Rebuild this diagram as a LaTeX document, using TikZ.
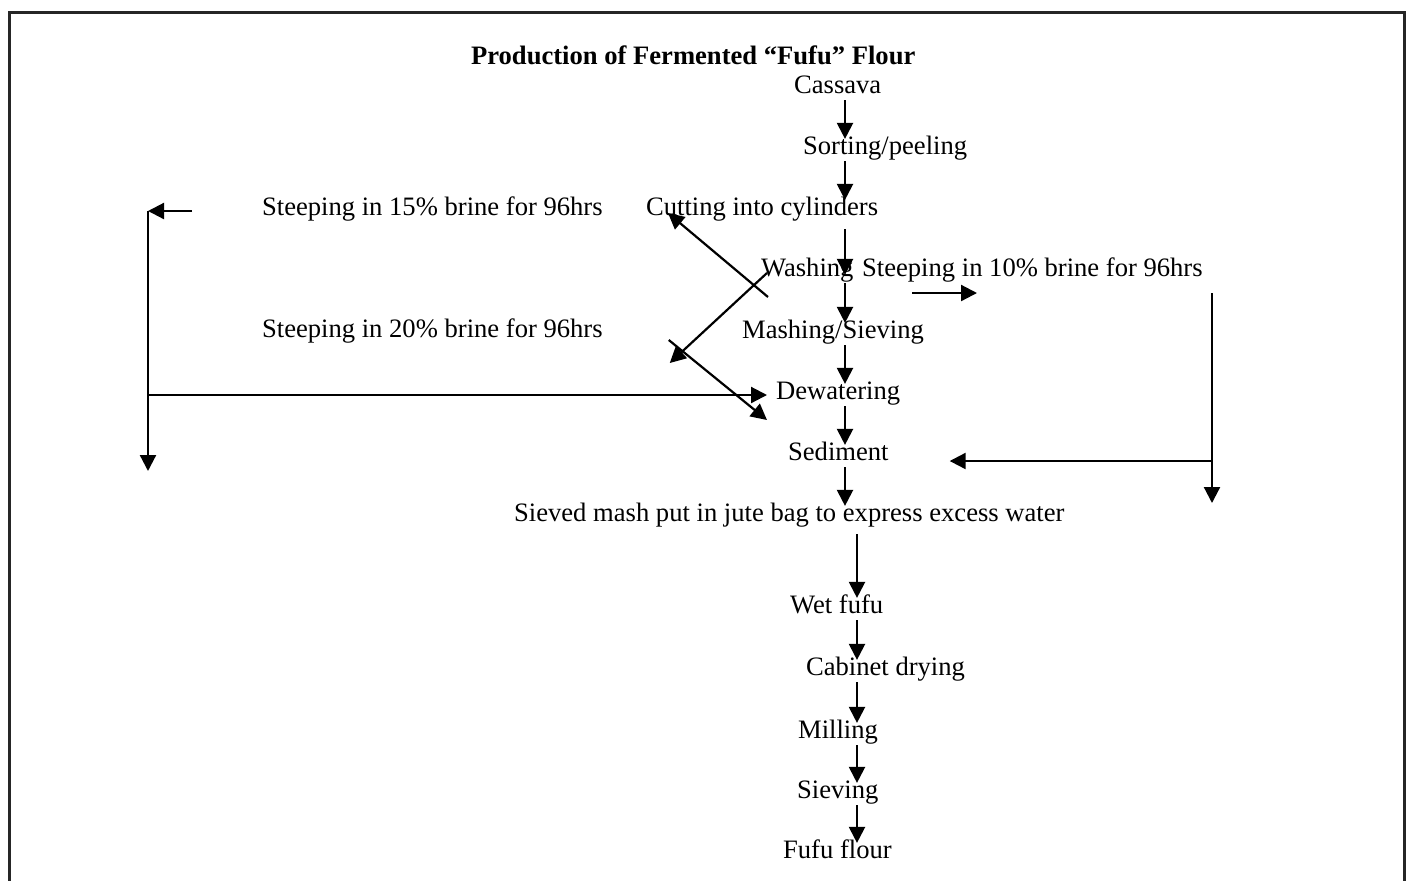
\documentclass[tikz,border=0pt]{standalone}
\usepackage{fontspec}
\setmainfont{Liberation Serif}
\usetikzlibrary{arrows.meta,calc}

\begin{document}
\begin{tikzpicture}[x=0.5pt, y=-0.5pt, line width=1.1pt,
    >={Triangle[length=8pt,width=8pt]},
    every node/.style={inner sep=0pt, text height=7pt, text depth=3pt,
      font=\fontsize{13.3}{16}\selectfont},
    stage/.style={anchor=base west},
    frame/.style={line width=1.5pt, black!85}]

      \useasboundingbox (0,0) rectangle (1409,880);
      \draw[frame] (9,890) -- (9,12) -- (1404,12) -- (1404,890);

      \node[stage, font=\fontsize{13.3}{16}\selectfont\bfseries] (title) at (470,64) {Production of Fermented “Fufu” Flour};

      % main line
      \node[stage] (cassava)  at (793,93)  {Cassava};
      \node[stage] (sorting)  at (802,154) {Sorting/peeling};
      \node[stage] (cutting)  at (645,215) {Cutting into cylinders};
      \node[stage] (washing)  at (760,276) {Washing};
      \node[stage] (mashing)  at (741,338) {Mashing/Sieving};
      \node[stage] (dewater)  at (775,399) {Dewatering};
      \node[stage] (sediment) at (787,460) {Sediment};
      \node[stage] (jutebag)  at (513,521) {Sieved mash put in jute bag to express excess water};
      \node[stage] (wetfufu)  at (789,613) {Wet fufu};
      \node[stage] (drying)   at (805,675) {Cabinet drying};
      \node[stage] (milling)  at (797,738) {Milling};
      \node[stage] (sieving)  at (796,798) {Sieving};
      \node[stage] (flour)    at (782,858) {Fufu flour};

      % brine steps
      \node[stage] (steepA) at (261,215) {Steeping in 15\% brine for 96hrs};
      \node[stage] (steepB) at (861,276) {Steeping in 10\% brine for 96hrs};
      \node[stage] (steepC) at (261,337) {Steeping in 20\% brine for 96hrs};

      \coordinate (spine)    at (845,0);
      \coordinate (spinelow) at (857,0);
      \coordinate (leftTop)  at (148,211);
      \coordinate (leftBot)  at (148,471);
      \coordinate (rightTop) at (1212,293);
      \coordinate (rightBot) at (1212,503);
      \coordinate (sedtip)   at ($(sediment.base east)+(60,1)$);

      \foreach \a/\b in {cassava/sorting, sorting/cutting, washing/mashing,
                         mashing/dewater, dewater/sediment, sediment/jutebag}
        \draw[->] (\a.south -| spine) -- (\b.north -| spine);
      \draw[->, shorten <=3.5pt, shorten >=-7pt] (cutting.south -| spine) -- (washing.north -| spine);

      \draw[->, shorten <=3pt] (jutebag.south -| spinelow) -- (wetfufu.north -| spinelow);
      \foreach \a/\b in {wetfufu/drying, drying/milling, milling/sieving, sieving/flour}
        \draw[->] (\a.south -| spinelow) -- (\b.north -| spinelow);

      \draw[->] ($(washing.base west)+(8,21)$) -- ($(cutting.base west)+(23,-2)$);
      \draw[->] ($(washing.base west)+(7,-3)$) -- ($(steepC.base east)+(66,26)$);
      \draw[->] ($(steepC.base east)+(65,3)$) -- ($(dewater.base west)+(-8,21)$);

      \draw[->] ($(steepA.west)+(-69,0)$) -- (leftTop);
      \draw[->] (leftTop) -- (leftBot);
      \draw[->, shorten >=4pt] (leftTop |- dewater.west) -- (dewater.west);

      \draw[->] ($(steepB.base west)+(51,17)$) -- ($(steepB.base west)+(116,17)$);
      \draw[->] (rightTop) -- (rightBot);
      \draw[->] (rightTop |- sedtip) -- (sedtip);

      \end{tikzpicture}
\end{document}
